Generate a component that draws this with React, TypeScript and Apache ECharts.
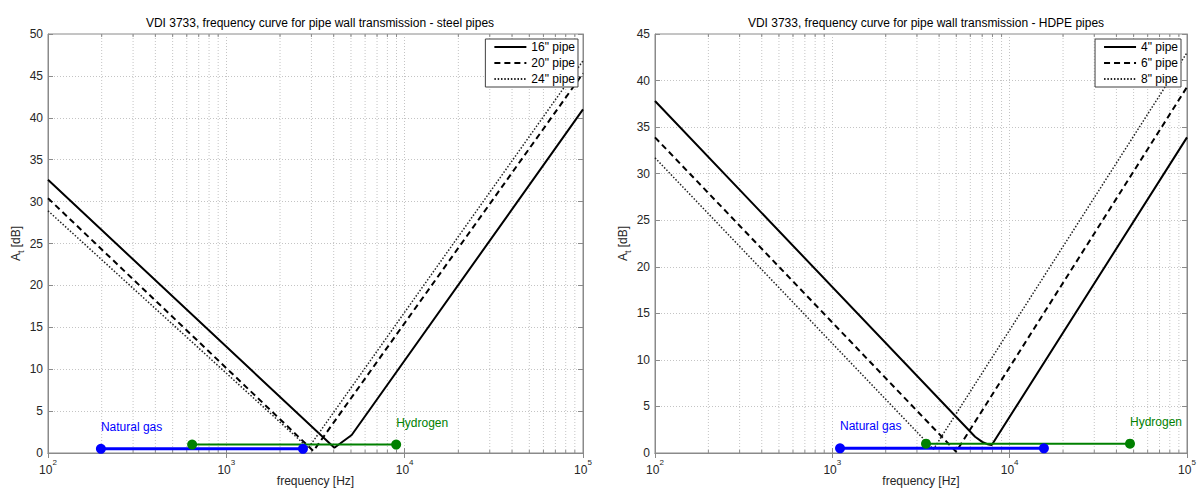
import React, { useEffect, useRef } from "react";
import * as echarts from "echarts";

const FONT = "'Liberation Sans', Arial, Helvetica, sans-serif";

const steelTitle = "VDI 3733, frequency curve for pipe wall transmission - steel pipes";
const hdpeTitle = "VDI 3733, frequency curve for pipe wall transmission - HDPE pipes";
const xName = "frequency [Hz]";

const steelNames = ['16" pipe', '20" pipe', '24" pipe'];
const hdpeNames = ['4" pipe', '6" pipe', '8" pipe'];

// [frequency in Hz, A_t in dB]
const steel16 = [[100, 32.6], [4036, 0.63], [5047, 2.15], [100000, 41.0]];
const steel20 = [[100, 30.4], [3076, 0.24], [100000, 45.3]];
const steel24 = [[100, 28.9], [2884, 0.6], [100000, 46.8]];

const hdpe4 = [[100, 37.8], [6383, 1.75], [7000, 1.2], [7500, 0.95], [7925, 0.86], [100000, 33.9]];
const hdpe6 = [[100, 33.9], [4990, 0.14], [100000, 39.3]];
const hdpe8 = [[100, 31.7], [3715, 0.4], [100000, 43.0]];

const steelGas = [[198, 0.5], [2690, 0.5]];
const steelH2 = [[643, 1.0], [8960, 1.0]];
const hdpeGas = [[1105, 0.5], [15600, 0.5]];
const hdpeH2 = [[3375, 1.0], [47700, 1.0]];

const minorTicks = [
  200, 300, 400, 500, 600, 700, 800, 900,
  2000, 3000, 4000, 5000, 6000, 7000, 8000, 9000,
  20000, 30000, 40000, 50000, 60000, 70000, 80000, 90000,
];

const steelYMax = 50;
const hdpeYMax = 45;
const yInterval = 5;
const xMin = 100;
const xMax = 100000;

const GRID_COLOR = "#c4c4c4";
const AXIS_COLOR = "#8a8a8a";
const TEXT_COLOR = "#262626";

function xAxes(gridIndex: number) {
  return [
    {
      type: "log",
      logBase: 10,
      gridIndex,
      min: xMin,
      max: xMax,
      position: "bottom",
      name: xName,
      nameLocation: "middle",
      nameGap: 22,
      nameMoveOverlap: false,
      nameTextStyle: { fontFamily: FONT, fontSize: 12, color: TEXT_COLOR, verticalAlign: "top" },
      axisLine: { show: true, lineStyle: { color: AXIS_COLOR, width: 1 } },
      axisTick: { show: true, inside: true, length: 5, lineStyle: { color: AXIS_COLOR } },
      splitLine: { show: true, lineStyle: { color: GRID_COLOR, type: [1, 2], width: 1 } },
      axisLabel: {
        margin: 5,
        formatter: (v: number) => `{b|10}{s|${Math.round(Math.log10(v))}}`,
        rich: {
          b: { fontFamily: FONT, fontSize: 12, color: TEXT_COLOR, lineHeight: 18, verticalAlign: "bottom" },
          s: { fontFamily: FONT, fontSize: 8, color: TEXT_COLOR, lineHeight: 18, verticalAlign: "top" },
        },
      },
    },
    {
      type: "log",
      logBase: 10,
      gridIndex,
      min: xMin,
      max: xMax,
      position: "top",
      axisLine: { show: true, lineStyle: { color: AXIS_COLOR, width: 1 } },
      axisTick: { show: true, inside: true, length: 5, lineStyle: { color: AXIS_COLOR } },
      splitLine: { show: false },
      axisLabel: { show: false },
    },
  ];
}

function yAxes(gridIndex: number, yMax: number) {
  return [
    {
      type: "value",
      gridIndex,
      min: 0,
      max: yMax,
      interval: yInterval,
      position: "left",
      name: "{a|A}{t|t}{a| [dB]}",
      nameLocation: "middle",
      nameGap: 23,
      nameMoveOverlap: false,
      nameTextStyle: {
        rich: {
          a: { fontFamily: FONT, fontSize: 12, color: TEXT_COLOR, lineHeight: 18, verticalAlign: "middle" },
          t: { fontFamily: FONT, fontSize: 9, color: TEXT_COLOR, lineHeight: 18, verticalAlign: "bottom" },
        },
      },
      axisLine: { show: true, lineStyle: { color: AXIS_COLOR, width: 1 } },
      axisTick: { show: true, inside: true, length: 5, lineStyle: { color: AXIS_COLOR } },
      splitLine: { show: true, lineStyle: { color: GRID_COLOR, type: [1, 2], width: 1 } },
      axisLabel: { margin: 5, fontFamily: FONT, fontSize: 12, color: TEXT_COLOR },
    },
    {
      type: "value",
      gridIndex,
      min: 0,
      max: yMax,
      interval: yInterval,
      position: "right",
      axisLine: { show: true, lineStyle: { color: AXIS_COLOR, width: 1 } },
      axisTick: { show: true, inside: true, length: 5, lineStyle: { color: AXIS_COLOR } },
      splitLine: { show: false },
      axisLabel: { show: false },
    },
  ];
}

function minorSeries(axisIndex: number, yMax: number) {
  return {
    type: "custom",
    xAxisIndex: axisIndex,
    yAxisIndex: axisIndex,
    silent: true,
    z: 1,
    data: minorTicks.map((f) => [f, 0]),
    renderItem: (_params: any, api: any) => {
      const f = api.value(0);
      const b = api.coord([f, 0]);
      const t = api.coord([f, yMax]);
      return {
        type: "group",
        children: [
          {
            type: "line",
            shape: { x1: b[0], y1: b[1], x2: t[0], y2: t[1] },
            style: { stroke: GRID_COLOR, lineWidth: 1, lineDash: [1, 2] },
          },
          {
            type: "line",
            shape: { x1: b[0], y1: b[1], x2: b[0], y2: b[1] - 3 },
            style: { stroke: AXIS_COLOR, lineWidth: 1 },
          },
          {
            type: "line",
            shape: { x1: t[0], y1: t[1], x2: t[0], y2: t[1] + 3 },
            style: { stroke: AXIS_COLOR, lineWidth: 1 },
          },
        ],
      };
    },
  };
}

function pipeSeries(name: string, data: number[][], kind: number, axisIndex: number) {
  const styles = [
    { type: "solid", width: 2, color: "#000" },
    { type: [6, 4], width: 2, color: "#000" },
    { type: [1.5, 1.8], width: 1.5, color: "#222" },
  ];
  return {
    name,
    type: "line",
    xAxisIndex: axisIndex,
    yAxisIndex: axisIndex,
    data,
    symbol: "none",
    z: 3,
    lineStyle: { ...styles[kind] },
    itemStyle: { color: "#000" },
  };
}

function rangeSeries(
  name: string,
  label: string,
  data: number[][],
  color: string,
  width: number,
  labelIndex: number,
  axisIndex: number
) {
  return {
    name,
    type: "line",
    xAxisIndex: axisIndex,
    yAxisIndex: axisIndex,
    symbol: "circle",
    symbolSize: 10,
    showSymbol: true,
    z: 4,
    lineStyle: { color, width },
    itemStyle: { color },
    data: data.map((d, i) =>
      i === labelIndex
        ? {
            value: d,
            label: {
              show: true,
              formatter: label,
              position: [5, -23],
              color,
              fontFamily: FONT,
              fontSize: 12,
            },
          }
        : { value: d }
    ),
  };
}

function legend(names: string[], right: number) {
  return {
    data: names,
    right,
    top: 39,
    orient: "vertical",
    itemWidth: 32,
    itemHeight: 14,
    itemGap: 4,
    padding: [2, 3, 2, 8],
    borderColor: "#404040",
    borderWidth: 1,
    borderRadius: 0,
    backgroundColor: "#fff",
    itemStyle: { opacity: 0 },
    textStyle: { fontFamily: FONT, fontSize: 12, color: "#000" },
  };
}

export default function App() {
  const ref = useRef<HTMLDivElement>(null);

  useEffect(() => {
    if (!ref.current) return;
    const chart = echarts.init(ref.current, undefined, { renderer: "svg" });
    const option: any = {
      animation: false,
      backgroundColor: "#fff",
      title: [
        {
          text: steelTitle,
          left: 315,
          top: 12,
          textAlign: "center",
          textStyle: { fontFamily: FONT, fontSize: 12, fontWeight: "normal", color: "#000" },
        },
        {
          text: hdpeTitle,
          left: 921,
          top: 12,
          textAlign: "center",
          textStyle: { fontFamily: FONT, fontSize: 12, fontWeight: "normal", color: "#000" },
        },
      ],
      legend: [legend(steelNames, 619), legend(hdpeNames, 16)],
      grid: [
        {
          left: 48, right: 614, top: 34, bottom: 38,
          show: true, borderColor: AXIS_COLOR, borderWidth: 1,
          containLabel: false, outerBoundsMode: "none",
        },
        {
          left: 655, right: 10, top: 34, bottom: 38,
          show: true, borderColor: AXIS_COLOR, borderWidth: 1,
          containLabel: false, outerBoundsMode: "none",
        },
      ],
      xAxis: [...xAxes(0), ...xAxes(1)],
      yAxis: [...yAxes(0, steelYMax), ...yAxes(1, hdpeYMax)],
      series: [
        minorSeries(0, steelYMax),
        minorSeries(2, hdpeYMax),
        rangeSeries("Natural gas (steel)", "Natural gas", steelGas, "#0000ff", 3, 0, 0),
        rangeSeries("Hydrogen (steel)", "Hydrogen", steelH2, "#008000", 2, 1, 0),
        rangeSeries("Natural gas (HDPE)", "Natural gas", hdpeGas, "#0000ff", 3, 0, 2),
        rangeSeries("Hydrogen (HDPE)", "Hydrogen", hdpeH2, "#008000", 2, 1, 2),
        pipeSeries(steelNames[0], steel16, 0, 0),
        pipeSeries(steelNames[1], steel20, 1, 0),
        pipeSeries(steelNames[2], steel24, 2, 0),
        pipeSeries(hdpeNames[0], hdpe4, 0, 2),
        pipeSeries(hdpeNames[1], hdpe6, 1, 2),
        pipeSeries(hdpeNames[2], hdpe8, 2, 2),
      ],
    };
    chart.setOption(option);
    return () => chart.dispose();
  }, []);

  return (
    <div
      ref={ref}
      style={{ position: "fixed", left: 0, top: 0, width: 1197, height: 491, background: "#fff" }}
    />
  );
}
